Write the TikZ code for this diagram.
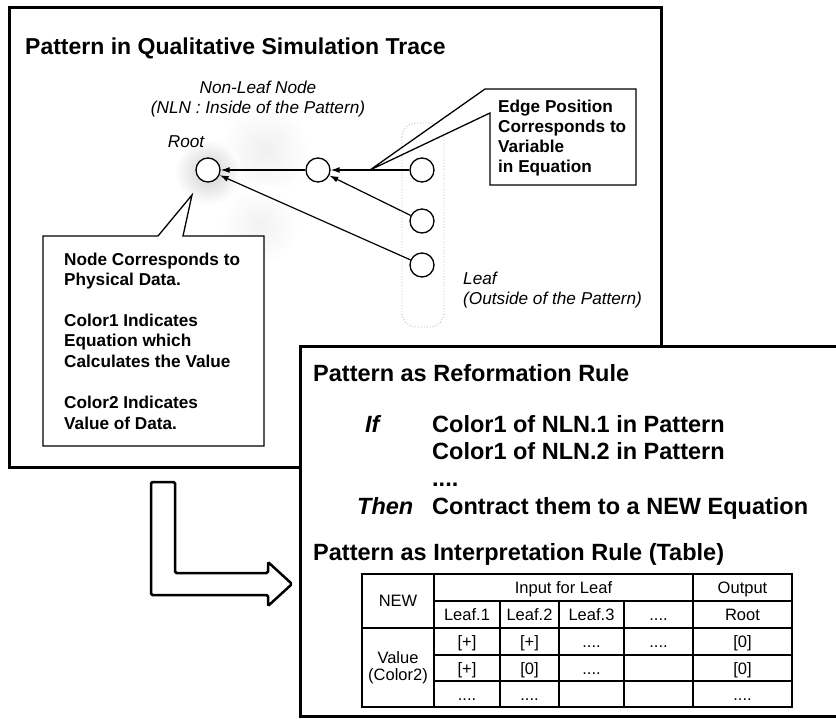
\documentclass[tikz,border=0pt]{standalone}
\usepackage{fontspec}
\setmainfont{Liberation Sans}
\usetikzlibrary{arrows.meta,calc}
\begin{document}
\begin{tikzpicture}[x=1pt,y=-1pt,
  frame/.style={draw=black,line width=3pt,fill=white},
  callout/.style={draw=black,line width=1.3pt,fill=white,line join=miter},
  vnode/.style={circle,draw=black,fill=white,line width=1.3pt,minimum size=24pt,inner sep=0pt},
  edge/.style={line width=1.2pt,-{Latex[length=9pt,width=6pt]}},
  lab/.style={font=\fontsize{17.2}{20}\selectfont\itshape,inner sep=0pt},
  note/.style={font=\fontsize{17.2}{20.5}\selectfont\bfseries,inner sep=0pt,anchor=base west},
  big/.style={font=\fontsize{23.5}{28}\selectfont\bfseries,inner sep=0pt,anchor=base west},
  cell/.style={font=\fontsize{16.5}{19}\selectfont,inner sep=0pt,anchor=base},
  tthin/.style={line width=1.2pt},
  tthick/.style={line width=2pt},
]
\useasboundingbox (0,0) rectangle (836,719);
\clip (0,0) rectangle (836,719);

% ---------------- upper panel: the pattern in the trace ----------------
\draw[frame] (9,8) rectangle (661,467);
\node[anchor=base west,font=\fontsize{23}{27}\selectfont\bfseries,inner sep=0pt]
  (title) at (25,55) {Pattern in Qualitative Simulation Trace};

% soft halo round the root, with faint haze near the inner nodes
\shade[inner color=gray!12,outer color=white] (265,150) circle[radius=45];
\shade[inner color=gray!10,outer color=white] (260,225) circle[radius=40];
\shade[inner color=gray!38,outer color=white] (208,172) circle[radius=33];

% group of leaves
\draw[gray!55,dotted,line width=0.9pt,rounded corners=14] (402,123) rectangle (444,327);

\node[vnode] (root) at (208,170) {};
\node[vnode] (nln)  at (318,170) {};
\node[vnode] (lf1)  at (422,170) {};
\node[vnode] (lf2)  at (422,221) {};
\node[vnode] (lf3)  at (422,265) {};

\draw[edge] (nln) -- (root);
\draw[edge] (lf1) -- (nln);
\draw[edge] (lf2) -- (nln);
\draw[edge] (lf3) -- (root);

\node[lab,anchor=base] (nlnA) at (258,94)  {Non-Leaf Node};
\node[lab,anchor=base] (nlnB) at (258,114) {(NLN : Inside of the Pattern)};
\node[lab,anchor=base] (rootL) at (186,148) {Root};
\node[lab,anchor=base west] (leafA) at (463,285) {Leaf};
\node[lab,anchor=base west] (leafB) at (463,305) {(Outside of the Pattern)};

% callout on the edge
\coordinate (etip) at ($(nln.east)!0.5!(lf1.west)$);
\draw[callout] (485,89) -- (636,89) -- (636,185) -- (490,185) -- (490,113) -- (etip) -- cycle;
\node[note] (e1) at (498,113) {Edge Position};
\node[note] (e2) at (498,133) {Corresponds to};
\node[note] (e3) at (498,153) {Variable};
\node[note] (e4) at (498,173) {in Equation};

% callout on the node
\coordinate (ntip) at (192,195);
\draw[callout] (43,236) -- (158,236) -- (ntip) -- (183,236) -- (264,236) -- (264,446) -- (43,446) -- cycle;
\node[note] (n1) at (64,266) {Node Corresponds to};
\node[note] (n2) at (64,286) {Physical Data.};
\node[note] (n3) at (64,327) {Color1 Indicates};
\node[note] (n4) at (64,347) {Equation which};
\node[note] (n5) at (64,368) {Calculates the Value};
\node[note] (n6) at (64,409) {Color2 Indicates};
\node[note] (n7) at (64,430) {Value of Data.};

% ---------------- turning arrow ----------------
\draw[line width=2.5pt,fill=white,rounded corners=1.5pt]
  (151,482) -- (175,482) -- (175,573) -- (268,573) -- (268,562) -- (292,584)
  -- (268,606) -- (268,595) -- (151,595) -- cycle;

% ---------------- lower panel: the rules ----------------
\draw[frame] (300,347) rectangle (860,716);

\node[big] (r1) at (313,382) {Pattern as Reformation Rule};
\node[big,font=\fontsize{23.5}{28}\selectfont\bfseries\itshape] (rif) at (365,432) {If};
\node[big] (r2) at (432,432) {Color1 of NLN.1 in Pattern};
\node[big] (r3) at (432,460) {Color1 of NLN.2 in Pattern};
\node[big] (r4) at (432,486) {....};
\node[big,font=\fontsize{23.5}{28}\selectfont\bfseries\itshape] (rthen) at (357,514) {Then};
\node[big] (r5) at (432,514) {Contract them to a NEW Equation};
\node[big] (r6) at (313,560) {Pattern as Interpretation Rule (Table)};

% table grid
\draw[tthin] (434,601) -- (792,601);
\draw[tthin] (362,628) -- (792,628);
\draw[tthin] (434,655) -- (792,655);
\draw[tthin] (434,681) -- (792,681);
\draw[tthin] (434,574) -- (434,707);
\draw[tthin] (500,601) -- (500,707);
\draw[tthin] (559,601) -- (559,707);
\draw[tthin] (624,601) -- (624,707);
\draw[tthin] (693,574) -- (693,707);
\draw[tthick] (362,574) rectangle (792,707);

% table text
\node[cell] (tNew) at (398,606) {NEW};
\node[cell] (tIn)  at (563.5,593) {Input for Leaf};
\node[cell] (tOut) at (742.5,593) {Output};
\node[cell] (tL1)  at (467,620) {Leaf.1};
\node[cell] (tL2)  at (529.5,620) {Leaf.2};
\node[cell] (tL3)  at (591.5,620) {Leaf.3};
\node[cell] (tL4)  at (658.5,620) {....};
\node[cell] (tRt)  at (742.5,620) {Root};
\node[cell] (tVa)  at (398,663) {Value};
\node[cell] (tVb)  at (398,680) {(Color2)};
\node[cell] (a1) at (467,647) {[+]};
\node[cell] (a2) at (529.5,647) {[+]};
\node[cell] (a3) at (591.5,647) {....};
\node[cell] (a4) at (658.5,647) {....};
\node[cell] (a5) at (742.5,647) {[0]};
\node[cell] (b1) at (467,674) {[+]};
\node[cell] (b2) at (529.5,674) {[0]};
\node[cell] (b3) at (591.5,674) {....};
\node[cell] (b5) at (742.5,674) {[0]};
\node[cell] (c1) at (467,700) {....};
\node[cell] (c2) at (529.5,700) {....};
\node[cell] (c5) at (742.5,700) {....};
\end{tikzpicture}
\end{document}
